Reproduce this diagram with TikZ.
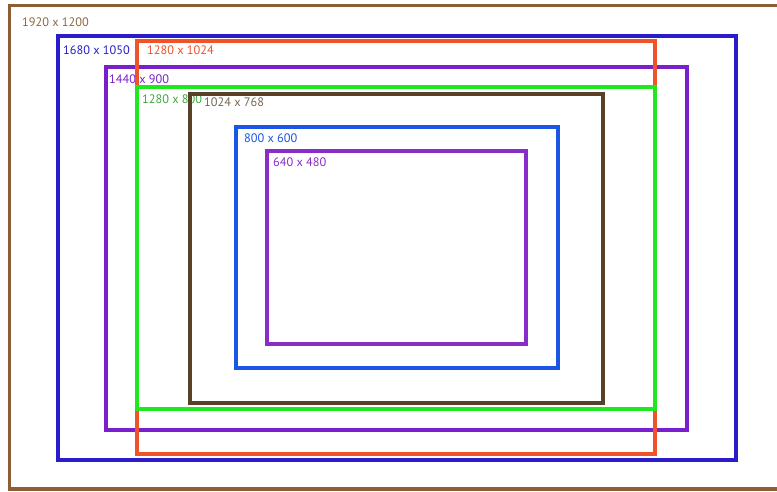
\documentclass[tikz,border=0pt]{standalone}
\usepackage{fontspec}
\setmainfont{PT Sans}
\definecolor{cbrown}{HTML}{8B5E34}
\definecolor{cbrowntxt}{HTML}{8A6A40}
\definecolor{cblue}{HTML}{2A1CCB}
\definecolor{cred}{HTML}{F0522A}
\definecolor{cpurple}{HTML}{7A1FCC}
\definecolor{cgreen}{HTML}{1EE81E}
\definecolor{cgreentxt}{HTML}{3DA83D}
\definecolor{cdark}{HTML}{5A4028}
\definecolor{cblue2}{HTML}{1A55E6}
\definecolor{cpurple2}{HTML}{8A2CC8}
\begin{document}
\begin{tikzpicture}[x=1pt,y=-1pt,
  rectframe/.style={line width=3.2pt},
  lbl/.style={anchor=west,inner sep=0pt,font=\fontsize{12.3}{14}\selectfont}]
\useasboundingbox[fill=white] (0,0) rectangle (777,491);
% labels first, so the frames cross over them as in the reference
\node[lbl,text=cbrowntxt] (t1920) at (22,22) {1920 x 1200};
\node[lbl,text=cblue] (t1680) at (63,50) {1680 x 1050};
\node[lbl,text=cred] (t1280a) at (147,50) {1280 x 1024};
\node[lbl,text=cpurple] (t1440) at (109,79) {1440 x 900};
\node[lbl,text=cgreentxt] (t1280b) at (142,99) {1280 x 800};
\node[lbl,text=cdark!80] (t1024) at (204,102) {1024 x 768};
\node[lbl,text=cblue2] (t800) at (244,138.5) {800 x 600};
\node[lbl,text=cpurple2] (t640) at (273,162.5) {640 x 480};
% outer brown frame (extends beyond right edge)
\draw[rectframe,draw=cbrown] (790,5.5) -- (9.5,5.5) -- (9.5,489) -- (790,489);
\draw[rectframe,draw=cblue] (58,36) rectangle (736,460);
\draw[rectframe,draw=cpurple] (106,67) rectangle (687,430);
\draw[rectframe,draw=cred] (137,41) rectangle (655,454);
\draw[rectframe,draw=cgreen] (137,87) rectangle (655,409);
\draw[rectframe,draw=cdark] (190,94) rectangle (603,403);
\draw[rectframe,draw=cblue2] (236,127) rectangle (558,368);
\draw[rectframe,draw=cpurple2] (267,151) rectangle (526,344);
\end{tikzpicture}
\end{document}
